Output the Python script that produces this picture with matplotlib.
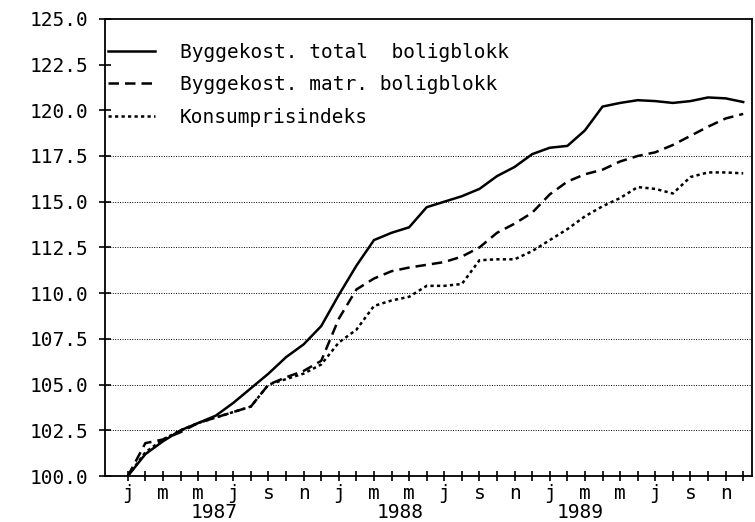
import matplotlib
matplotlib.use("Agg")
import matplotlib.pyplot as plt

# monthly index, Jan 1987 = 0 ... Dec 1989 = 35
months = list(range(36))

total = [100.0, 101.2, 101.9, 102.5, 102.9, 103.3, 104.0, 104.8, 105.6, 106.5, 107.2, 108.2,
         109.9, 111.5, 112.9, 113.3, 113.6, 114.7, 115.0, 115.3, 115.7, 116.4, 116.9, 117.6,
         117.95, 118.05, 118.9, 120.2, 120.4, 120.55, 120.5, 120.4, 120.5, 120.7, 120.65, 120.45]

matr = [100.0, 101.8, 102.0, 102.4, 102.9, 103.2, 103.5, 103.8, 105.0, 105.4, 105.75, 106.3,
        108.6, 110.2, 110.8, 111.2, 111.4, 111.55, 111.7, 112.0, 112.5, 113.3, 113.8, 114.4,
        115.4, 116.1, 116.5, 116.75, 117.2, 117.5, 117.7, 118.1, 118.6, 119.1, 119.55, 119.8]

kpi = [100.0, 101.3, 102.0, 102.5, 102.9, 103.2, 103.5, 103.8, 105.0, 105.3, 105.6, 106.1,
       107.3, 108.0, 109.3, 109.6, 109.8, 110.4, 110.4, 110.5, 111.8, 111.85, 111.85, 112.3,
       112.9, 113.5, 114.2, 114.75, 115.2, 115.8, 115.7, 115.45, 116.35, 116.6, 116.6, 116.55]

labels = ["Byggekost. total  boligblokk", "Byggekost. matr. boligblokk", "Konsumprisindeks"]
month_letters = ["j", "m", "m", "j", "s", "n"]
years = ["1987", "1988", "1989"]
year_pos = [4.9, 15.5, 25.7]
yticks = [100.0, 102.5, 105.0, 107.5, 110.0, 112.5, 115.0, 117.5, 120.0, 122.5, 125.0]
grid_y = [102.5, 105.0, 107.5, 110.0, 112.5, 115.0, 117.5]

plt.rcParams["font.family"] = ["DejaVu Sans Mono", "DejaVu Sans"]

fig = plt.figure(figsize=(7.55, 5.22), dpi=100)
ax = fig.add_axes([0.139, 0.088, 0.857, 0.876])

for g in grid_y:
    ax.axhline(g, color="k", lw=0.7, ls=(0, (1, 1.5)), zorder=1)

ax.plot(months, total, "k-", lw=1.8, label=labels[0], zorder=3)
ax.plot(months, matr, color="k", lw=1.8, dashes=(4.2, 2.4), label=labels[1], zorder=3)
ax.plot(months, kpi, color="k", lw=1.8, dashes=(1.3, 1.3), label=labels[2], zorder=3)

ax.set_xlim(-1.3, 35.5)
ax.set_ylim(100, 125)

ax.set_yticks(yticks)
ax.set_yticklabels(["%.1f" % v for v in yticks])
ax.set_xticks(months)
ax.set_xticklabels([month_letters[(m % 12) // 2] if m % 2 == 0 else "" for m in months])

ax.tick_params(axis="y", direction="inout", length=8, width=1.2, pad=8, labelsize=14)
ax.tick_params(axis="x", direction="inout", length=7, width=1.2, pad=2, labelsize=14)
for s in ax.spines.values():
    s.set_linewidth(1.3)

for y, p in zip(years, year_pos):
    ax.text(p, -0.08, y, transform=ax.get_xaxis_transform(), ha="center", va="center",
            fontsize=14)

ax.legend(loc="upper left", bbox_to_anchor=(0.005, 0.948), frameon=False, fontsize=14,
          handlelength=2.4, handletextpad=1.3, labelspacing=0.7, borderpad=0,
          borderaxespad=0)

fig.savefig("out.png", dpi=100)
